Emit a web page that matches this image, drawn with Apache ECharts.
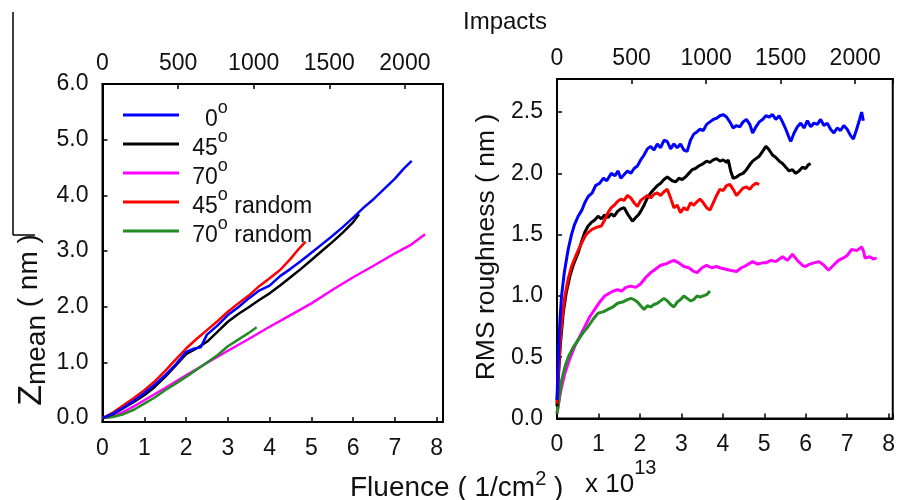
<!DOCTYPE html>
<html>
<head>
<meta charset="utf-8">
<script src="https://cdn.jsdelivr.net/npm/echarts@6/dist/echarts.min.js"></script>
<style>
html,body{margin:0;padding:0;background:#fff;}
#chart{width:898px;height:500px;}
</style>
</head>
<body>
<div id="chart"></div>
<script>
// ---------- data ----------
const seriesNames = ['0°', '45°', '70°', '45° random', '70° random'];
const seriesColors = ['#0000ff', '#000000', '#ff00ff', '#ff0000', '#228b22'];

const fluenceTicks = [0, 1, 2, 3, 4, 5, 6, 7, 8];
const impactTicks = [0, 500, 1000, 1500, 2000];

// left panel: Zmean (nm) vs fluence (x 1e13 /cm2)
const zmean0 = [[0,0],[0.25,0.08],[0.5,0.19],[0.75,0.31],[1,0.45],[1.25,0.6],[1.5,0.77],[1.75,0.96],[2,1.19],[2.2,1.25],[2.35,1.27],[2.5,1.5],[2.75,1.66],[3,1.85],[3.25,1.99],[3.5,2.15],[3.75,2.29],[4,2.38],[4.25,2.55],[4.5,2.68],[4.75,2.82],[5,2.97],[5.25,3.12],[5.5,3.27],[5.75,3.43],[6,3.6],[6.25,3.78],[6.5,3.94],[6.75,4.12],[7,4.3],[7.2,4.47],[7.4,4.62]];
const zmean45 = [[0,0],[0.25,0.07],[0.5,0.18],[0.75,0.29],[1,0.41],[1.25,0.56],[1.5,0.74],[1.75,0.94],[2,1.15],[2.25,1.25],[2.5,1.37],[2.75,1.55],[3,1.73],[3.25,1.87],[3.5,1.99],[3.75,2.12],[4,2.24],[4.25,2.38],[4.5,2.53],[4.75,2.68],[5,2.84],[5.25,3.0],[5.5,3.16],[5.75,3.33],[6,3.52],[6.14,3.66]];
const zmean70 = [[0,0],[0.25,0.03],[0.5,0.11],[0.75,0.21],[1,0.32],[1.5,0.54],[2,0.77],[2.5,0.99],[3,1.21],[3.5,1.42],[4,1.64],[4.5,1.85],[5,2.06],[5.5,2.3],[6,2.53],[6.5,2.74],[7,2.96],[7.4,3.12],[7.72,3.3]];
const zmean45r = [[0,0],[0.25,0.1],[0.5,0.23],[0.75,0.36],[1,0.5],[1.25,0.66],[1.5,0.85],[1.75,1.05],[2,1.25],[2.25,1.42],[2.5,1.58],[2.75,1.74],[3,1.91],[3.25,2.06],[3.5,2.2],[3.75,2.37],[4,2.51],[4.25,2.66],[4.5,2.86],[4.7,3.04],[4.86,3.17]];
const zmean70r = [[0,0],[0.25,0.02],[0.5,0.07],[0.75,0.15],[1,0.26],[1.25,0.37],[1.5,0.5],[1.75,0.62],[2,0.74],[2.25,0.87],[2.5,1.0],[2.75,1.13],[3,1.29],[3.25,1.41],[3.5,1.53],[3.69,1.63]];

// right panel: RMS roughness (nm) vs fluence
const rms0 = [[0,0.15],[0.03,0.5],[0.07,0.8],[0.11,1.0],[0.18,1.2],[0.27,1.38],[0.35,1.5],[0.42,1.58],[0.51,1.65],[0.6,1.7],[0.67,1.76],[0.75,1.81],[0.85,1.84],[0.93,1.9],[1.03,1.92],[1.12,1.96],[1.2,1.94],[1.31,2.0],[1.4,1.98],[1.47,2.02],[1.54,1.96],[1.62,1.99],[1.7,2.02],[1.78,2.0],[1.86,2.04],[1.94,2.06],[2.02,2.11],[2.1,2.15],[2.18,2.2],[2.26,2.22],[2.34,2.19],[2.42,2.24],[2.5,2.21],[2.58,2.27],[2.66,2.26],[2.74,2.2],[2.82,2.24],[2.9,2.21],[2.98,2.24],[3.06,2.19],[3.14,2.18],[3.22,2.27],[3.3,2.32],[3.38,2.34],[3.45,2.36],[3.53,2.35],[3.61,2.4],[3.69,2.42],[3.77,2.44],[3.85,2.45],[3.93,2.47],[4.01,2.48],[4.09,2.46],[4.17,2.42],[4.25,2.37],[4.33,2.39],[4.41,2.38],[4.49,2.42],[4.57,2.44],[4.65,2.4],[4.72,2.33],[4.8,2.38],[4.88,2.42],[4.96,2.44],[5.04,2.47],[5.12,2.46],[5.2,2.48],[5.28,2.44],[5.36,2.47],[5.44,2.42],[5.52,2.36],[5.6,2.29],[5.64,2.26],[5.72,2.33],[5.8,2.38],[5.88,2.41],[5.96,2.37],[6.04,2.43],[6.12,2.38],[6.2,2.41],[6.28,2.4],[6.36,2.44],[6.44,2.39],[6.52,2.41],[6.6,2.36],[6.68,2.33],[6.76,2.37],[6.84,2.35],[6.92,2.39],[7.0,2.36],[7.08,2.31],[7.15,2.28],[7.22,2.35],[7.3,2.44],[7.35,2.5],[7.39,2.43]];
const rms45 = [[0,0.1],[0.03,0.31],[0.08,0.6],[0.15,0.86],[0.22,1.02],[0.31,1.16],[0.4,1.26],[0.51,1.35],[0.6,1.45],[0.67,1.52],[0.75,1.57],[0.83,1.6],[0.91,1.62],[0.99,1.65],[1.07,1.63],[1.15,1.66],[1.23,1.64],[1.31,1.67],[1.38,1.65],[1.46,1.69],[1.54,1.71],[1.62,1.72],[1.7,1.67],[1.78,1.63],[1.82,1.61],[1.9,1.64],[1.96,1.66],[2.02,1.69],[2.1,1.74],[2.18,1.8],[2.26,1.84],[2.34,1.87],[2.42,1.9],[2.5,1.92],[2.58,1.95],[2.66,1.97],[2.7,1.98],[2.78,1.94],[2.86,1.93],[2.94,1.96],[3.02,1.95],[3.1,1.97],[3.18,2.0],[3.26,2.03],[3.34,2.04],[3.42,2.06],[3.53,2.08],[3.61,2.1],[3.69,2.09],[3.77,2.11],[3.85,2.12],[3.93,2.1],[4.01,2.11],[4.09,2.09],[4.13,2.11],[4.19,2.02],[4.25,1.96],[4.33,1.97],[4.41,1.99],[4.49,2.0],[4.57,2.03],[4.65,2.07],[4.72,2.1],[4.8,2.12],[4.88,2.14],[4.96,2.18],[5.04,2.22],[5.1,2.2],[5.2,2.15],[5.28,2.13],[5.36,2.1],[5.44,2.08],[5.52,2.05],[5.6,2.02],[5.68,2.03],[5.76,2.0],[5.84,2.02],[5.92,2.05],[6.0,2.04],[6.06,2.07],[6.12,2.08]];
const rms70 = [[0,0.04],[0.05,0.15],[0.1,0.24],[0.19,0.37],[0.3,0.48],[0.43,0.59],[0.55,0.67],[0.67,0.75],[0.79,0.83],[0.91,0.89],[1.03,0.95],[1.15,1.0],[1.25,1.02],[1.36,1.04],[1.46,1.05],[1.56,1.04],[1.66,1.07],[1.78,1.08],[1.9,1.07],[2.02,1.1],[2.14,1.15],[2.26,1.19],[2.38,1.22],[2.5,1.25],[2.62,1.26],[2.74,1.28],[2.82,1.29],[2.94,1.27],[3.06,1.24],[3.18,1.23],[3.3,1.2],[3.38,1.19],[3.5,1.23],[3.61,1.25],[3.73,1.23],[3.85,1.24],[3.93,1.23],[4.05,1.22],[4.17,1.21],[4.33,1.2],[4.45,1.23],[4.57,1.25],[4.72,1.28],[4.84,1.26],[4.96,1.27],[5.04,1.27],[5.16,1.29],[5.28,1.28],[5.44,1.32],[5.56,1.29],[5.68,1.34],[5.8,1.29],[5.92,1.25],[5.99,1.24],[6.1,1.26],[6.2,1.27],[6.32,1.28],[6.44,1.25],[6.55,1.21],[6.67,1.25],[6.79,1.29],[6.91,1.31],[7.0,1.33],[7.11,1.38],[7.23,1.37],[7.35,1.4],[7.4,1.36],[7.43,1.31],[7.55,1.32],[7.63,1.3],[7.71,1.31]];
const rms45r = [[0,0.12],[0.03,0.35],[0.07,0.59],[0.12,0.8],[0.19,1.0],[0.27,1.14],[0.35,1.24],[0.47,1.34],[0.59,1.43],[0.7,1.5],[0.83,1.54],[0.95,1.56],[1.07,1.57],[1.15,1.62],[1.23,1.68],[1.31,1.72],[1.38,1.74],[1.46,1.77],[1.54,1.79],[1.62,1.78],[1.7,1.82],[1.78,1.8],[1.86,1.76],[1.94,1.73],[2.02,1.78],[2.1,1.8],[2.18,1.82],[2.26,1.8],[2.34,1.83],[2.42,1.84],[2.5,1.82],[2.58,1.85],[2.66,1.87],[2.74,1.8],[2.82,1.72],[2.9,1.74],[2.98,1.68],[3.06,1.72],[3.14,1.7],[3.22,1.76],[3.3,1.74],[3.38,1.77],[3.45,1.79],[3.53,1.76],[3.61,1.72],[3.69,1.7],[3.77,1.76],[3.85,1.82],[3.93,1.87],[4.01,1.86],[4.09,1.9],[4.17,1.91],[4.25,1.87],[4.33,1.82],[4.41,1.85],[4.49,1.88],[4.57,1.89],[4.65,1.87],[4.72,1.9],[4.8,1.92],[4.88,1.91]];
const rms70r = [[0,0.04],[0.05,0.15],[0.11,0.31],[0.19,0.42],[0.27,0.5],[0.39,0.58],[0.51,0.64],[0.63,0.7],[0.75,0.75],[0.87,0.81],[0.99,0.86],[1.11,0.87],[1.23,0.89],[1.35,0.91],[1.46,0.94],[1.58,0.95],[1.7,0.97],[1.78,0.98],[1.86,0.97],[1.94,0.95],[2.02,0.92],[2.1,0.89],[2.18,0.92],[2.26,0.91],[2.34,0.93],[2.42,0.94],[2.5,0.96],[2.58,0.98],[2.66,0.96],[2.74,0.93],[2.82,0.91],[2.9,0.95],[2.98,0.97],[3.06,1.0],[3.14,0.98],[3.22,0.96],[3.3,0.97],[3.38,1.0],[3.45,0.99],[3.53,1.0],[3.61,1.01],[3.69,1.04]];

const zmeanSets = [zmean0, zmean45, zmean70, zmean45r, zmean70r];
const rmsSets = [rms0, rms45, rms70, rms45r, rms70r];

// ---------- chart ----------
const FONT = 'Liberation Sans, Arial, sans-serif';
const TXT = '#111';
const LBL = 23;
const chart = echarts.init(document.getElementById('chart'), null, {renderer: 'canvas'});

function axisBase(extra) {
  return Object.assign({
    axisLine: {show: true, onZero: false, lineStyle: {color: '#000', width: 2}},
    axisTick: {show: true, inside: true, length: 5, lineStyle: {color: '#000', width: 1.5}},
    splitLine: {show: false}
  }, extra);
}
const intFmt = v => (Math.abs(v - Math.round(v)) < 1e-6 && fluenceTicks.indexOf(Math.round(v)) >= 0 ? String(Math.round(v)) : '');
const halfFmt = v => (Math.abs(v * 2 - Math.round(v * 2)) < 1e-6 ? v.toFixed(1) : '');
const impFmt = v => (impactTicks.indexOf(Math.round(v)) >= 0 && Math.abs(v - Math.round(v)) < 1e-6 ? String(v) : '');

const legendLabels = {
  '0°': '{f| }{d|  0}{s|o}',
  '45°': '{f| }{d|45}{s|o}',
  '70°': '{f| }{d|70}{s|o}',
  '45° random': '{f| }{d|45}{s|o}{d| random}',
  '70° random': '{f| }{d|70}{s|o}{d| random}'
};

const series = [];
const order = [2, 4, 1, 3, 0];
order.forEach(i => {
  series.push({
    name: seriesNames[i], type: 'line', xAxisIndex: 0, yAxisIndex: 0,
    data: zmeanSets[i], showSymbol: false, symbol: 'none', silent: true,
    lineStyle: {color: seriesColors[i], width: 2.5}, itemStyle: {color: seriesColors[i]}
  });
});
order.forEach(i => {
  series.push({
    name: seriesNames[i], type: 'line', xAxisIndex: 2, yAxisIndex: 1,
    data: rmsSets[i], showSymbol: false, symbol: 'none', silent: true,
    lineStyle: {color: seriesColors[i], width: 3}, itemStyle: {color: seriesColors[i]}
  });
});

const option = {
  animation: false,
  backgroundColor: '#fff',
  grid: [
    {left: 102.5, right: 455, top: 84, bottom: 78, show: true, borderColor: '#000', borderWidth: 2},
    {left: 557, right: 2, top: 79, bottom: 81.5, show: true, borderColor: '#000', borderWidth: 2}
  ],
  xAxis: [
    axisBase({gridIndex: 0, type: 'value', position: 'bottom', min: 0, max: 8.15, interval: 1,
      axisLabel: {color: TXT, fontFamily: FONT, fontSize: LBL, margin: 15, formatter: intFmt}}),
    axisBase({gridIndex: 0, type: 'value', position: 'top', min: 0, max: 2252, interval: 500,
      axisLabel: {color: TXT, fontFamily: FONT, fontSize: LBL, margin: 9, formatter: impFmt}}),
    axisBase({gridIndex: 1, type: 'value', position: 'bottom', min: 0, max: 8.1, interval: 1,
      axisLabel: {color: TXT, fontFamily: FONT, fontSize: LBL, margin: 15, formatter: intFmt}}),
    axisBase({gridIndex: 1, type: 'value', position: 'top', min: 0, max: 2252, interval: 500,
      axisLabel: {color: TXT, fontFamily: FONT, fontSize: LBL, margin: 9, formatter: impFmt}})
  ],
  yAxis: [
    axisBase({gridIndex: 0, type: 'value', min: -0.07, max: 6, splitNumber: 6,
      axisLabel: {color: TXT, fontFamily: FONT, fontSize: LBL, margin: 14,
        formatter: v => (Math.abs(v - Math.round(v)) < 1e-6 ? Math.round(v).toFixed(1) : '')}}),
    axisBase({gridIndex: 1, type: 'value', min: 0, max: 2.77, splitNumber: 6,
      axisLabel: {color: TXT, fontFamily: FONT, fontSize: LBL, margin: 14, formatter: halfFmt}})
  ],
  legend: {
    data: seriesNames,
    orient: 'vertical', left: 123, top: 99, padding: 0,
    itemWidth: 56, itemHeight: 3, itemGap: -3, icon: 'rect',
    selectedMode: false,
    formatter: name => legendLabels[name],
    textStyle: {
      color: TXT, fontFamily: FONT, padding: [0, 0, 0, 8],
      rich: {
        f: {fontSize: 1, lineHeight: 32, fontFamily: FONT, color: TXT},
        d: {fontSize: 23, lineHeight: 16, verticalAlign: 'bottom', fontFamily: FONT, color: TXT},
        s: {fontSize: 18, lineHeight: 20, verticalAlign: 'top', fontFamily: FONT, color: TXT}
      }
    }
  },
  graphic: [
    {type: 'text', x: 505, y: 22, silent: true,
      style: {text: 'Impacts', fontSize: 24, fontFamily: FONT, fill: TXT, align: 'center', verticalAlign: 'middle'}},
    {type: 'text', x: 350, y: 469, silent: true,
      style: {text: '{a|Fluence ( 1/cm}{s|2}{a| )}', fontFamily: FONT, fill: TXT, align: 'left', verticalAlign: 'top',
        rich: {a: {fontSize: 28, lineHeight: 33, verticalAlign: 'bottom', fontFamily: FONT, fill: TXT},
               s: {fontSize: 20, lineHeight: 20, verticalAlign: 'top', fontFamily: FONT, fill: TXT}}}},
    {type: 'text', x: 585, y: 458, silent: true,
      style: {text: '{a|x 10}{s|13}', fontFamily: FONT, fill: TXT, align: 'left', verticalAlign: 'top',
        rich: {a: {fontSize: 26, lineHeight: 40, verticalAlign: 'bottom', fontFamily: FONT, fill: TXT},
               s: {fontSize: 20, lineHeight: 22, verticalAlign: 'top', fontFamily: FONT, fill: TXT}}}},
    {type: 'text', x: 33, y: 320, rotation: Math.PI / 2, silent: true,
      style: {text: '{z|Z}{m|mean}{a| ( nm )}', fontFamily: FONT, fill: TXT, align: 'center', verticalAlign: 'middle',
        rich: {z: {fontSize: 34, lineHeight: 36, verticalAlign: 'top', fontFamily: FONT, fill: TXT},
               m: {fontSize: 28, lineHeight: 24, verticalAlign: 'bottom', fontFamily: FONT, fill: TXT},
               a: {fontSize: 28, lineHeight: 36, verticalAlign: 'top', fontFamily: FONT, fill: TXT}}}},
    {type: 'text', x: 487, y: 247, rotation: Math.PI / 2, silent: true,
      style: {text: 'RMS roughness ( nm )', fontSize: 26.5, fontFamily: FONT, fill: TXT, align: 'center', verticalAlign: 'middle'}},
    {type: 'line', silent: true, shape: {x1: 13, y1: 12, x2: 13, y2: 235}, style: {stroke: '#000', lineWidth: 1.5}},
    {type: 'line', silent: true, shape: {x1: 13, y1: 235, x2: 35, y2: 235}, style: {stroke: '#000', lineWidth: 1.5}}
  ],
  series: series
};
chart.setOption(option);
</script>
</body>
</html>
